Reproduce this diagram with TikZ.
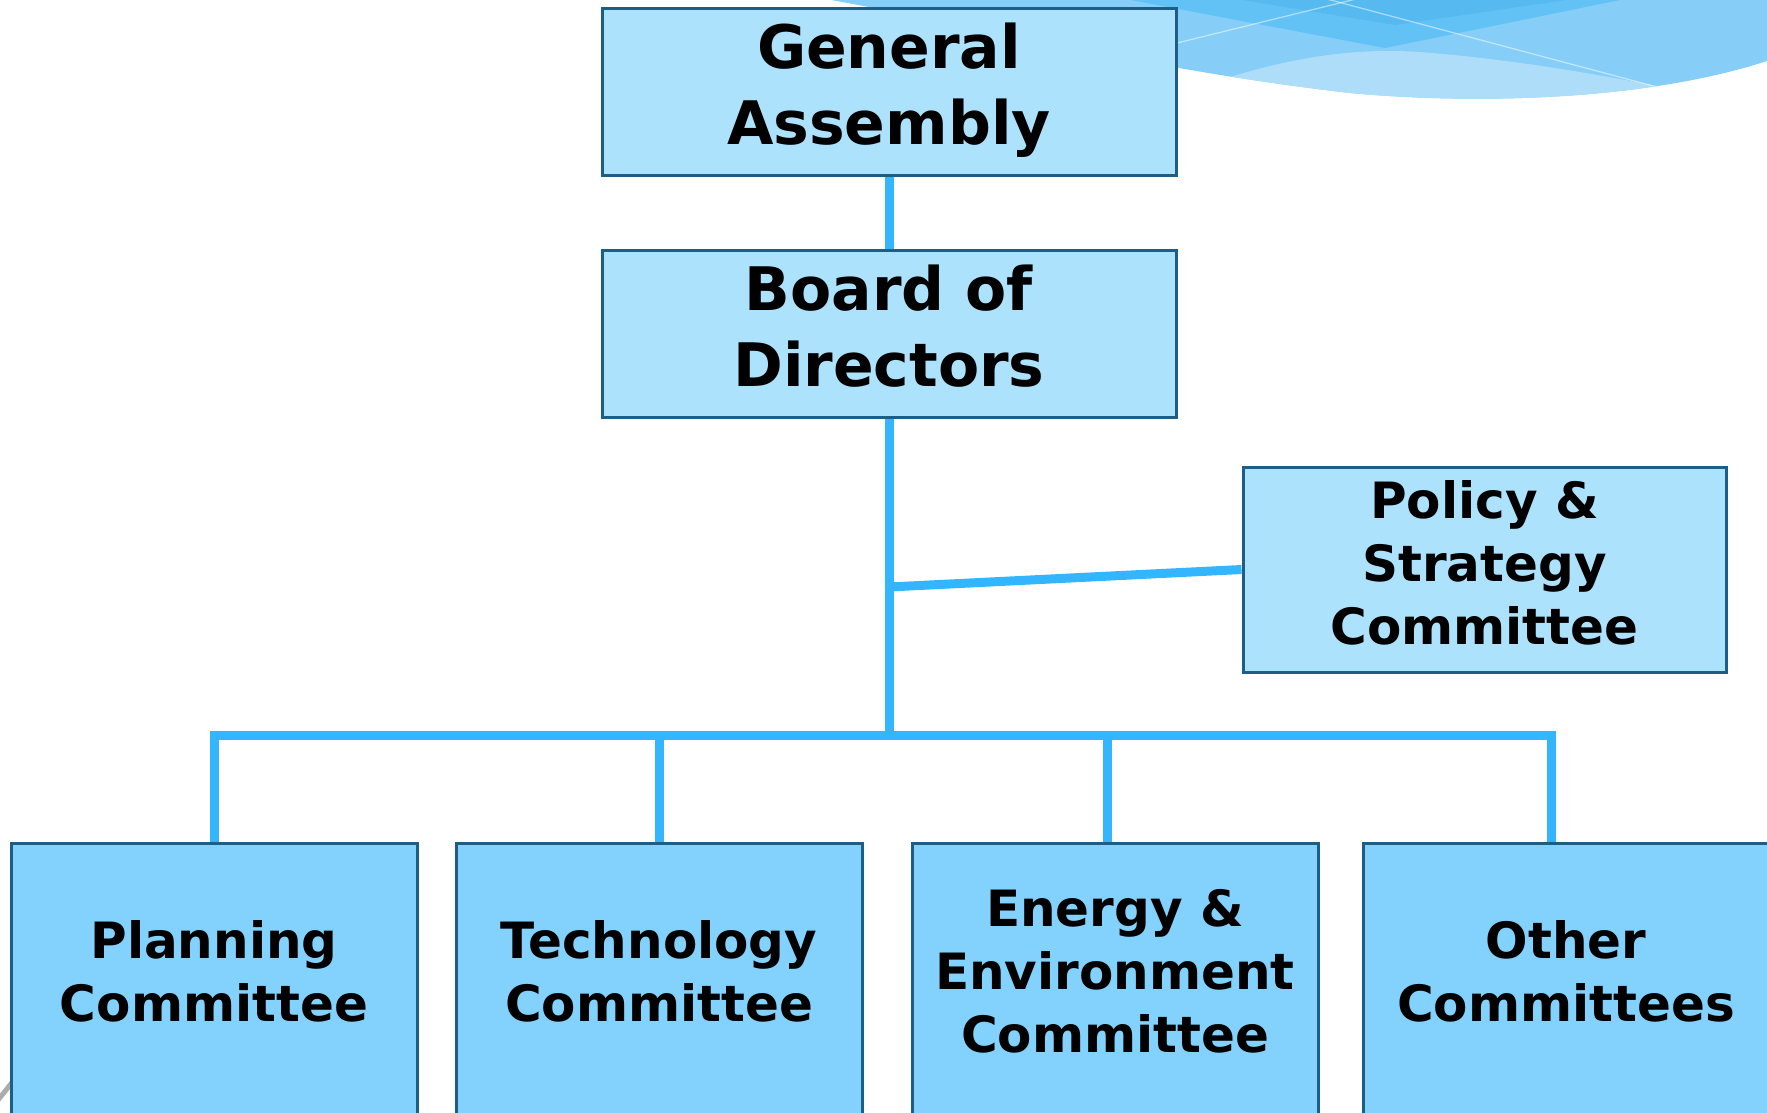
\documentclass[tikz,border=0pt]{standalone}
\usepackage{fontspec}
\setmainfont{DejaVu Sans}
\definecolor{linec}{HTML}{33B5FF}
\definecolor{bord}{HTML}{1D5E86}
\definecolor{fillA}{HTML}{ADE2FD}
\definecolor{fillB}{HTML}{83D1FD}
\definecolor{waveM}{HTML}{86CEF8}
\definecolor{waveL}{HTML}{AEDDF9}
\definecolor{waveD}{HTML}{62C2F6}
\definecolor{waveT}{HTML}{56BAF1}
\tikzset{
  conn/.style={draw=linec, line width=9pt, line cap=rect},
  boxtop/.style={draw=bord, line width=3pt, fill=fillA, rectangle, inner sep=0pt},
  boxbot/.style={draw=bord, line width=3pt, fill=fillB, rectangle, inner sep=0pt,
                 minimum width=406pt, minimum height=400pt, anchor=north},
  lblbig/.style={align=center, font=\fontsize{60}{76}\selectfont\bfseries, inner sep=0pt},
  lblsm/.style={align=center, font=\fontsize{50}{63}\selectfont\bfseries, inner sep=0pt}
}
\begin{document}
\begin{tikzpicture}[x=1pt,y=-1pt]
\useasboundingbox (0,0) rectangle (1767,1112);
% background wave
\begin{scope}
  \path[clip] (820,-2) .. controls (1000,30) and (1150,70) .. (1350,93)
     .. controls (1480,105) and (1650,100) .. (1770,60) -- (1770,-2) -- cycle;
  \fill[waveM] (800,-2) rectangle (1770,120);
  \fill[waveL] (1220,80) .. controls (1300,55) and (1360,48) .. (1420,52)
     .. controls (1520,60) and (1600,75) .. (1690,92)
     .. controls (1500,115) and (1300,105) .. (1220,80) -- cycle;
  \fill[waveD] (1120,-2) -- (1385,48) -- (1630,-2) -- cycle;
  \fill[waveT] (1230,-2) -- (1395,25) -- (1580,-2) -- cycle;
  \draw[white, opacity=0.5, line width=1.2pt] (1177,43) -- (1360,-2);
  \draw[white, opacity=0.5, line width=1.2pt] (1323,-2) -- (1657,87);
\end{scope}
% gray stroke bottom-left
\draw[gray!65, line width=5pt] (-2,1100) -- (14,1080);
% boxes
\node[boxtop, minimum width=574pt, minimum height=167pt] (ga) at (889,91.5) {};
\node[boxtop, minimum width=574pt, minimum height=167pt] (bd) at (889,333.5) {};
\node[boxtop, minimum width=483pt, minimum height=205pt] (ps) at (1484.5,569.5) {};
\node[boxbot] (pl) at (214,842) {};
\node[boxbot] (te) at (659,842) {};
\node[boxbot] (en) at (1115,842) {};
\node[boxbot] (ot) at (1566,842) {};
% connectors
\coordinate (bus) at (889,735);
\coordinate (jn) at (889,587);
\draw[conn, line cap=butt] (ga.south) -- (bd.north);
\draw[conn, line cap=butt] (bd.south) -- (bus);
\draw[conn, line cap=butt] (jn) -- (ps.west);
\draw[conn] (pl.north |- bus) -- ([xshift=-15pt]ot.north |- bus);
\draw[conn, line cap=butt] (pl.north) -- (pl.north |- bus);
\draw[conn, line cap=butt] (te.north) -- (te.north |- bus);
\draw[conn, line cap=butt] ([xshift=-8pt]en.north) -- ([xshift=-8pt]en.north |- bus);
\draw[conn, line cap=butt] ([xshift=-15pt]ot.north) -- ([xshift=-15pt]ot.north |- bus);
% labels
\node[lblbig] (gaT) at (889,90) {General\\Assembly};
\node[lblbig] (bdT) at (889,326) {Board of\\Directors};
\node[lblsm] (psT) at (1484.5,563) {Policy \&\\Strategy\\Committee};
\node[lblsm] (plT) at (214,971) {Planning\\Committee};
\node[lblsm] (teT) at (659,971) {Technology\\Committee};
\node[lblsm] (enT) at (1115,971) {Energy \&\\Environment\\Committee};
\node[lblsm] (otT) at (1566,971) {Other\\Committees};
\end{tikzpicture}
\end{document}
